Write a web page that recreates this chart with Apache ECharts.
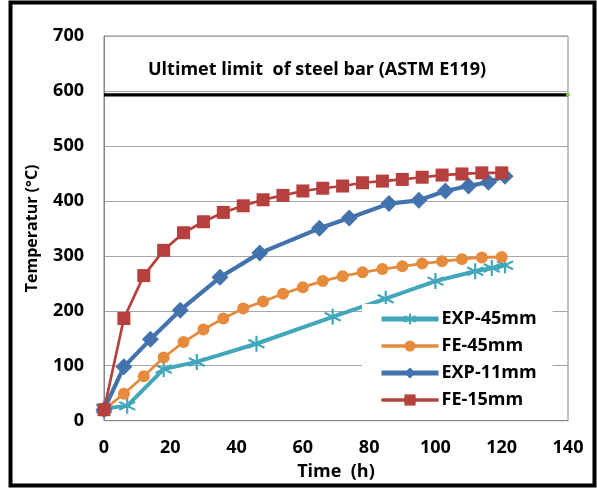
<!DOCTYPE html>
<html>
<head>
<meta charset="utf-8">
<script src="https://cdn.jsdelivr.net/npm/echarts@6/dist/echarts.min.js"></script>
<style>
html,body{margin:0;padding:0;background:#fff;}
#c{width:597px;height:488px;}
</style>
</head>
<body>
<div id="c"></div>
<script>
// ---- data ----
const seriesNames = ['EXP-45mm', 'FE-45mm', 'EXP-11mm', 'FE-15mm'];
const xTicks = [0, 20, 40, 60, 80, 100, 120, 140];
const yTicks = [0, 100, 200, 300, 400, 500, 600, 700];

const timeFE = [0, 6, 12, 18, 24, 30, 36, 42, 48, 54, 60, 66, 72, 78, 84, 90, 96, 102, 108, 114, 120];
const fe15 = [20, 186, 264, 310, 342, 362, 379, 391, 402, 410, 418, 423, 427, 433, 436, 439, 443, 447, 449, 451, 451];
const fe45 = [20, 49, 81, 115, 143, 166, 186, 204, 217, 231, 243, 254, 263, 270, 276, 281, 286, 290, 294, 297, 298];

const timeExp11 = [0, 6, 14, 23, 35, 47, 65, 74, 86, 95, 103, 110, 116, 121];
const exp11 = [20, 98, 148, 201, 261, 305, 350, 369, 395, 401, 418, 427, 434, 445];

const timeExp45 = [0, 7, 18, 28, 46, 69, 85, 100, 112, 117, 121];
const exp45 = [22, 27, 94, 107, 140, 189, 222, 254, 272, 278, 283];

const limitTime = [0, 140];
const limitValue = 593;
const limitText = 'Ultimet limit  of steel bar (ASTM E119)';

// ---- build ----
const zip = (xs, ys) => xs.map((x, i) => [x, ys[i]]);
const FONT = 'Open Sans';
const asterisk = 'path://M0,-10L0,10M-8.66,-5L8.66,5M-8.66,5L8.66,-5';
const colors = {'EXP-45mm': '#42a7ba', 'FE-45mm': '#e68a3c', 'EXP-11mm': '#4373ad', 'FE-15mm': '#b5403d'};
const legendLineW = {'EXP-45mm': 5, 'FE-45mm': 3.5, 'EXP-11mm': 5, 'FE-15mm': 3.5};

const chart = echarts.init(document.getElementById('c'), null, {renderer: 'canvas'});
chart.setOption({
  backgroundColor: '#fff',
  animation: false,
  textStyle: {fontFamily: FONT},
  grid: {left: 104, right: 29, top: 36, bottom: 67.3, show: true, borderColor: '#868686', borderWidth: 1, backgroundColor: 'transparent'},
  xAxis: {
    type: 'value', min: xTicks[0], max: xTicks[xTicks.length - 1], interval: 20,
    name: 'Time  (h)', nameLocation: 'middle', nameGap: 42,
    nameTextStyle: {fontFamily: FONT, fontWeight: 'bold', fontSize: 18, color: '#000'},
    axisLine: {show: true, lineStyle: {color: '#868686', width: 1}},
    axisTick: {show: false},
    axisLabel: {fontFamily: FONT, fontWeight: 'bold', fontSize: 18, color: '#000', margin: 18},
    splitLine: {show: false}
  },
  yAxis: {
    type: 'value', min: yTicks[0], max: yTicks[yTicks.length - 1], interval: 100,
    name: 'Temperatur (°C)', nameLocation: 'middle', nameGap: 64, nameRotate: 90,
    nameTextStyle: {fontFamily: FONT, fontWeight: 'bold', fontSize: 16, color: '#000'},
    axisLine: {show: true, lineStyle: {color: '#868686', width: 1}},
    axisTick: {show: false},
    axisLabel: {fontFamily: FONT, fontWeight: 'bold', fontSize: 18, color: '#000', margin: 20},
    splitLine: {show: true, lineStyle: {color: '#a6a6a6', width: 1}}
  },
  legend: {
    data: seriesNames.map(n => ({name: n, lineStyle: {width: legendLineW[n], color: colors[n]}})),
    orient: 'vertical',
    left: 362, top: 304,
    padding: [6, 16, 6, 17],
    backgroundColor: '#fff',
    itemWidth: 57, itemHeight: 14, itemGap: 9,
    textStyle: {fontFamily: FONT, fontWeight: 'bold', fontSize: 18, color: '#000', lineHeight: 18, padding: [0, 0, 0, -2]}
  },
  graphic: [
    {type: 'text', left: 148, top: 61, z: 100,
     style: {text: limitText, fontFamily: FONT, fontWeight: 'bold', fontSize: 18, fill: '#000'}},
    {type: 'rect', z: 100, shape: {x: 10.5, y: 2.5, width: 584, height: 483},
     style: {fill: 'none', stroke: '#000', lineWidth: 4}}
  ],
  series: [
    {name: 'limit', type: 'line', data: [
        {value: [limitTime[0], limitValue], symbol: 'none'},
        {value: [limitTime[1], limitValue], symbol: 'circle', symbolSize: 4, itemStyle: {color: '#8cc63f'}}],
     lineStyle: {color: '#000', width: 3.3}, z: 1, silent: true},
    {name: 'EXP-45mm', type: 'line', data: zip(timeExp45, exp45),
     symbol: asterisk, symbolSize: 16,
     itemStyle: {color: colors['EXP-45mm'], borderColor: colors['EXP-45mm'], borderWidth: 2.2},
     lineStyle: {color: colors['EXP-45mm'], width: 4}, z: 2},
    {name: 'FE-45mm', type: 'line', data: zip(timeFE, fe45),
     symbol: 'circle', symbolSize: 12,
     itemStyle: {color: colors['FE-45mm'], borderWidth: 0},
     lineStyle: {color: colors['FE-45mm'], width: 2.8}, z: 3},
    {name: 'EXP-11mm', type: 'line', data: zip(timeExp11, exp11),
     symbol: 'diamond', symbolSize: 17,
     itemStyle: {color: colors['EXP-11mm'], borderWidth: 0},
     lineStyle: {color: colors['EXP-11mm'], width: 4.2}, z: 4},
    {name: 'FE-15mm', type: 'line', data: zip(timeFE, fe15),
     symbol: 'rect', symbolSize: 13,
     itemStyle: {color: colors['FE-15mm'], borderWidth: 0},
     lineStyle: {color: colors['FE-15mm'], width: 2.7}, z: 5}
  ]
});
</script>
</body>
</html>
